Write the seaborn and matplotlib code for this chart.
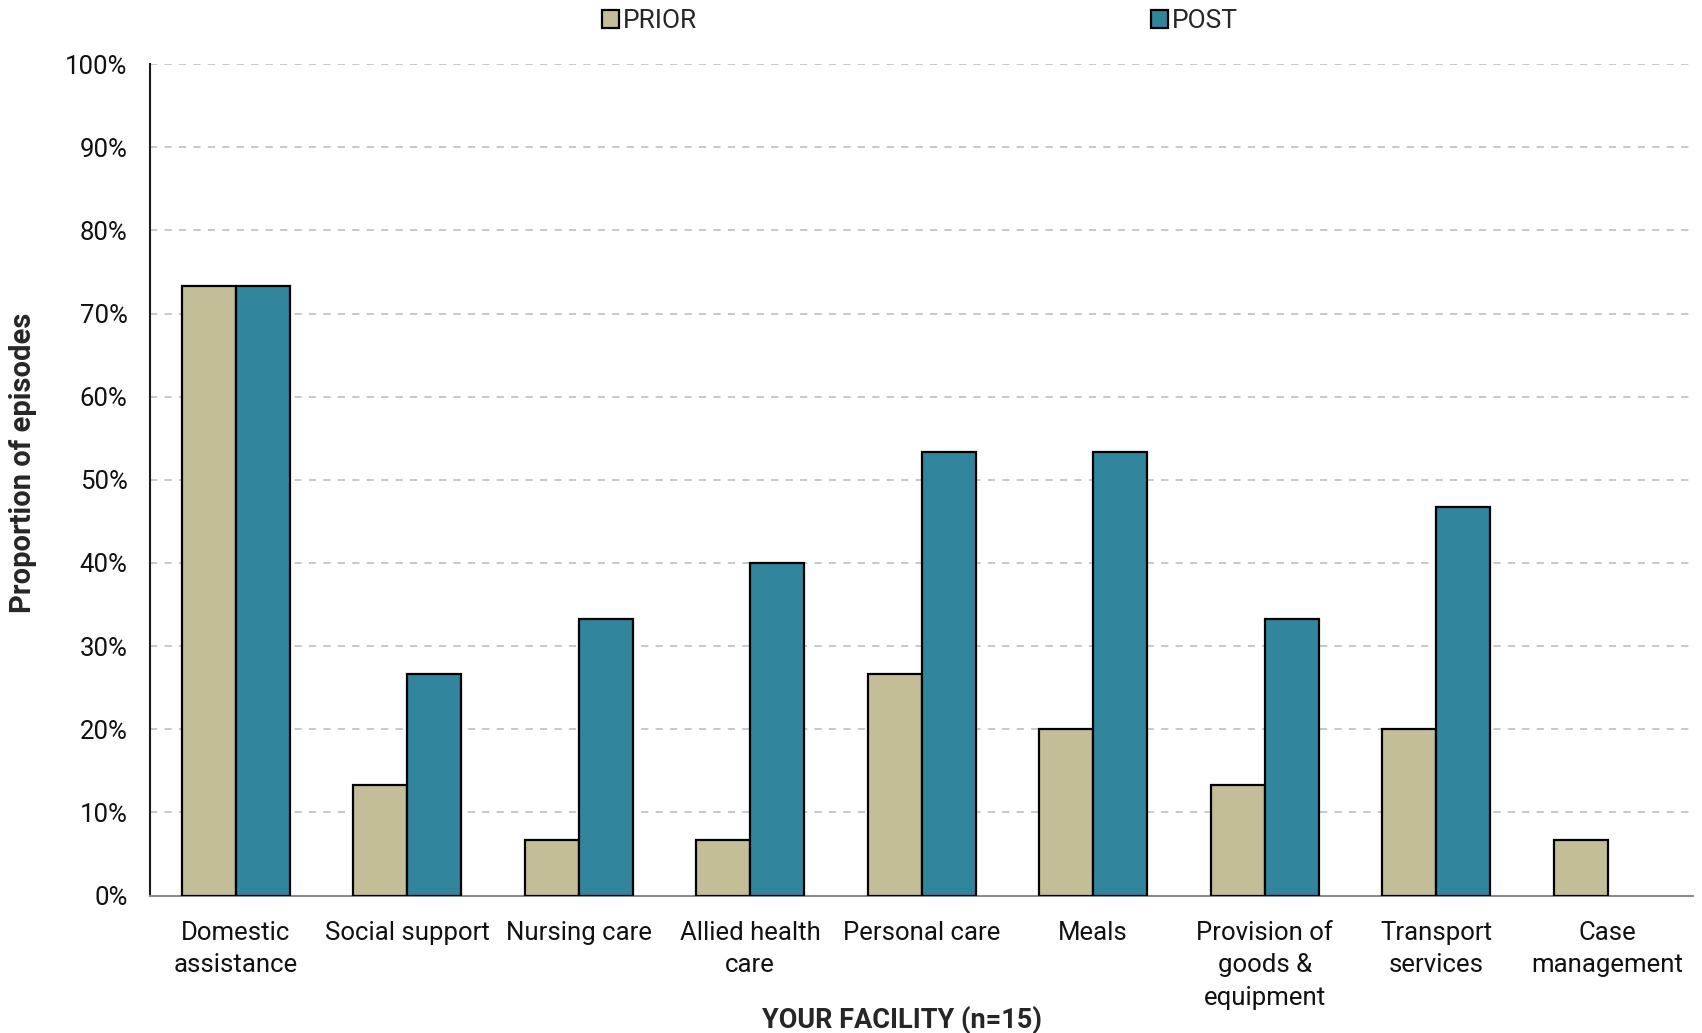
import matplotlib
matplotlib.use("Agg")
import matplotlib.pyplot as plt
import seaborn as sns
import pandas as pd
from matplotlib.ticker import PercentFormatter

services = [
    "Domestic\nassistance",
    "Social support",
    "Nursing care",
    "Allied health\ncare",
    "Personal care",
    "Meals",
    "Provision of\ngoods &\nequipment",
    "Transport\nservices",
    "Case\nmanagement",
]
prior = [73.3, 13.3, 6.7, 6.7, 26.7, 20.0, 13.3, 20.0, 6.7]
post = [73.3, 26.7, 33.3, 40.0, 53.3, 53.3, 33.3, 46.7, 0.0]
groups = ["PRIOR", "POST"]
colors = {"PRIOR": "#c4be98", "POST": "#31859c"}

df = pd.concat([
    pd.DataFrame({"service": services, "group": "PRIOR", "value": prior}),
    pd.DataFrame({"service": services, "group": "POST", "value": post}),
])

sns.set_style("white")
plt.rcParams["font.family"] = ["Roboto", "DejaVu Sans"]

fig = plt.figure(figsize=(17.02, 10.33), dpi=100)
ax = fig.add_axes([0.088, 0.133, 0.907, 0.805])

sns.barplot(data=df, x="service", y="value", hue="group", hue_order=groups,
            palette=colors, saturation=1, width=0.63, edgecolor="black",
            linewidth=1.6, errorbar=None, ax=ax, zorder=3)

# no outline for empty bars
for cont in ax.containers:
    for bar in cont:
        if bar.get_height() == 0:
            bar.set_visible(False)

ax.set_ylim(0, 100)
ax.set_xlim(-0.5, len(services) - 0.5)
ax.set_yticks(range(0, 101, 10))
ax.yaxis.set_major_formatter(PercentFormatter(decimals=0))
ax.grid(axis="y", color="#c4c4c4", linestyle=(0, (4, 4)), linewidth=1.3, zorder=0)
ax.grid(axis="x", visible=False)

for s in ["top", "right"]:
    ax.spines[s].set_visible(False)
ax.spines["left"].set_color("#1a1a1a")
ax.spines["left"].set_linewidth(1.5)
ax.spines["bottom"].set_color("#8c8c8c")
ax.spines["bottom"].set_linewidth(1.5)

ax.tick_params(axis="both", length=0, labelsize=18.5, colors="#111111")
ax.tick_params(axis="y", pad=16)
ax.tick_params(axis="x", pad=18)
for lab in ax.get_xticklabels():
    lab.set_linespacing(1.45)

ax.set_ylabel("Proportion of episodes", fontsize=21, fontweight="bold")
ax.yaxis.set_label_coords(-0.073, 0.52)
ax.set_xlabel("YOUR FACILITY (n=15)", fontsize=19.5, fontweight="bold")
ax.xaxis.set_label_coords(0.487, -0.133)

handles, labels = ax.get_legend_handles_labels()
ax.legend_.remove()
fig.legend(handles, labels, loc="upper center", bbox_to_anchor=(0.5405, 0.991),
           ncol=2, frameon=False, fontsize=19, handlelength=0.65, handleheight=0.65,
           handletextpad=0.15, columnspacing=17.2, borderpad=0, borderaxespad=0)

fig.savefig("out.png", dpi=100)
